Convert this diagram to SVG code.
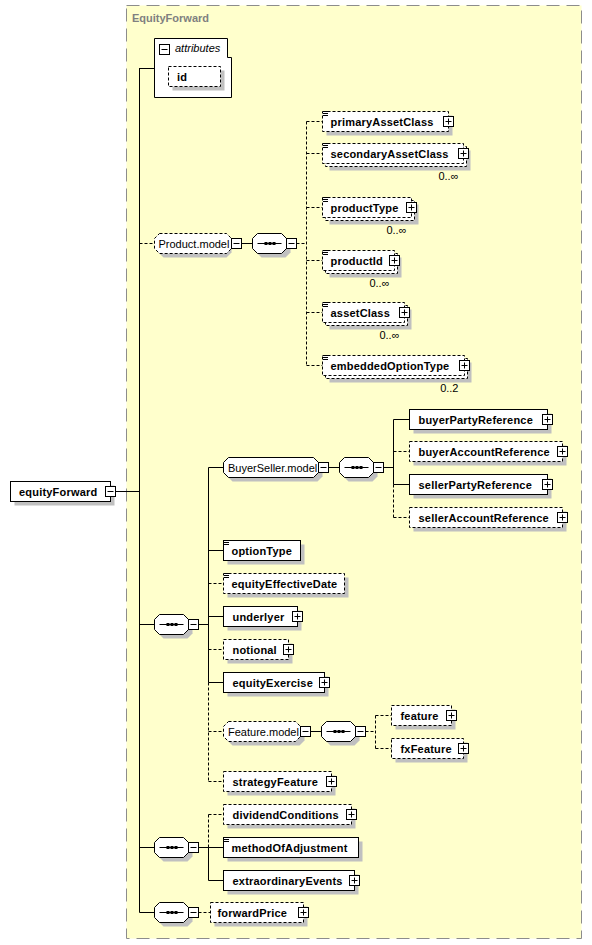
<svg xmlns="http://www.w3.org/2000/svg" xmlns:xlink="http://www.w3.org/1999/xlink" width="592" height="945" viewBox="0 0 592 945">
<style>
.bg{fill:#ffffcc;stroke:#8c8c8c;stroke-dasharray:13,7}
.title{font-family:"Liberation Sans",Arial,sans-serif;font-size:11px;font-weight:bold;fill:#808080}
.t{font-family:"Liberation Sans",Arial,sans-serif;font-size:11px;font-weight:bold;fill:#000;letter-spacing:0.2px}
.g{font-family:"Liberation Sans",Arial,sans-serif;font-size:11px;fill:#000}
.i{font-family:"Liberation Sans",Arial,sans-serif;font-size:11px;font-style:italic;fill:#000}
.o{font-family:"Liberation Sans",Arial,sans-serif;font-size:11px;fill:#000;text-anchor:end}
.box{fill:#fff;stroke:#000;stroke-width:1}
.opt{stroke-dasharray:3,2}
.sh{fill:#c0c0c0}
.eq{stroke:#000;stroke-width:1;fill:none}
.c{stroke:#000;stroke-width:1;fill:none}
.cd{stroke:#000;stroke-width:1;fill:none;stroke-dasharray:3,2}
</style>
<defs>
<g id="pl"><rect x="-5" y="-5" width="10" height="10" fill="#fff" stroke="#000"/><path d="M-3,0H3M0,-3V3" stroke="#000"/></g>
<g id="mi"><rect x="-5" y="-5" width="10" height="10" fill="#fff" stroke="#000"/><path d="M-3,0H3" stroke="#000"/></g>
<g id="seq">
<path d="M9,4H33L38,9V19L33,24H9L4,19V9Z" fill="#c0c0c0"/>
<path d="M5,0H29L34,5V15L29,20H5L0,15V5Z" fill="#fff" stroke="#000"/>
<path d="M5,10H29" stroke="#000"/>
<path d="M12,10H23" stroke="#000" stroke-width="3" stroke-dasharray="3,1"/>
</g>
</defs>

<rect class="bg" x="126.5" y="5.5" width="455" height="933"/>
<text class="title" x="132" y="22">EquityForward</text>

<g id="connectors">
<path class="c" d="M115,491.5H139.5M139.5,68V912.5M139.5,68.5H154.5M139.5,624.5H154.5M139.5,847.5H154.5M139.5,912.5H154.5"/>
<path class="cd" d="M139.5,243.5H154.5"/>
<path class="c" d="M241.5,243.5H252.5"/>
<path class="cd" d="M296.5,243.5H306.5M306.5,121.5V365.5M306.5,121.5H322.5M306.5,153.5H322.5M306.5,207.5H322.5M306.5,260.5H322.5M306.5,312.5H322.5M306.5,365.5H322.5"/>
<path class="c" d="M198.5,624.5H208.5M208.5,467.5V682.5M208.5,467.5H223.5M208.5,550.5H223.5M208.5,616.5H223.5M208.5,682.5H223.5"/>
<path class="cd" d="M208.5,682.5V781.5M208.5,583.5H223.5M208.5,649.5H223.5M208.5,731.5H223.5M208.5,781.5H223.5"/>
<path class="c" d="M328.5,467.5H339.5M383.5,467.5H393.5M393.5,419.5V484.5M393.5,419.5H409.5M393.5,484.5H409.5"/>
<path class="cd" d="M393.5,484.5V517.5M393.5,451.5H409.5M393.5,517.5H409.5"/>
<path class="c" d="M310.5,731.5H321.5"/>
<path class="cd" d="M365.5,731.5H375.5M375.5,715.5V748.5M375.5,715.5H391.5M375.5,748.5H391.5"/>
<path class="c" d="M198.5,847.5H208.5M208.5,847.5V880.5M208.5,847.5H223.5M208.5,880.5H223.5"/>
<path class="cd" d="M208.5,814.5V847.5M208.5,814.5H223.5"/>
<path class="cd" d="M198.5,912.5H210.5"/>
</g>

<g id="n-equityForward">
<rect class="sh" x="14.5" y="485.5" width="100" height="20"/>
<rect class="box" x="10.5" y="481.5" width="100" height="20"/>
<text class="t" x="19" y="495.5">equityForward</text>
<use xlink:href="#mi" x="110.5" y="491.5"/>
</g>

<g id="n-attributes">
<path class="box" d="M154.5,38.5H227.5V57.5H231.5V97.5H154.5Z"/>
<use xlink:href="#mi" x="164.5" y="49.5"/>
<text class="i" x="175" y="52">attributes</text>
<rect class="sh" x="172.5" y="70.5" width="52" height="20"/>
<rect class="box opt" x="168.5" y="66.5" width="52" height="20"/>
<text class="t" x="177" y="80.5">id</text>
</g>

<g id="n-Product.model">
<path d="M163.5,237.5H226.5L231.5,242.5V252.5L226.5,257.5H163.5L158.5,252.5V242.5Z" class="sh"/>
<path class="box opt" d="M159.5,233.5H226.5L231.5,238.5V248.5L226.5,253.5H159.5L154.5,248.5V238.5Z"/>
<text class="g" x="158.5" y="247.5">Product.model</text>
<use xlink:href="#mi" x="236.5" y="243.5"/>
</g>
<g id="n-seq-product">
<use xlink:href="#seq" x="252.5" y="233.5"/>
<use xlink:href="#mi" x="291.5" y="243.5"/>
</g>

<g id="n-primaryAssetClass">
<rect class="sh" x="326.5" y="115.5" width="126" height="20"/>
<rect class="box opt" x="322.5" y="111.5" width="126" height="20"/>
<path class="eq" d="M323,111.5h5M323,113.5h5M323,115.5h5"/>
<text class="t" x="330.5" y="125.5">primaryAssetClass</text>
<use xlink:href="#pl" x="448.5" y="121.5"/>
</g>

<g id="n-secondaryAssetClass">
<rect class="sh" x="329.5" y="150.5" width="141" height="20"/>
<rect class="box opt" x="325.5" y="146.5" width="141" height="20"/>
<rect class="box opt" x="322.5" y="143.5" width="141" height="20"/>
<path class="eq" d="M323,143.5h5M323,145.5h5M323,147.5h5"/>
<text class="t" x="330.5" y="157.5">secondaryAssetClass</text>
<use xlink:href="#pl" x="463.5" y="153.5"/>
<text class="o" x="458.5" y="179.5">0..∞</text>
</g>

<g id="n-productType">
<rect class="sh" x="329.5" y="204.5" width="89" height="20"/>
<rect class="box opt" x="325.5" y="200.5" width="89" height="20"/>
<rect class="box opt" x="322.5" y="197.5" width="89" height="20"/>
<path class="eq" d="M323,197.5h5M323,199.5h5M323,201.5h5"/>
<text class="t" x="330.5" y="211.5">productType</text>
<use xlink:href="#pl" x="411.5" y="207.5"/>
<text class="o" x="406.5" y="233.5">0..∞</text>
</g>

<g id="n-productId">
<rect class="sh" x="329.5" y="257.5" width="72" height="20"/>
<rect class="box opt" x="325.5" y="253.5" width="72" height="20"/>
<rect class="box opt" x="322.5" y="250.5" width="72" height="20"/>
<path class="eq" d="M323,250.5h5M323,252.5h5M323,254.5h5"/>
<text class="t" x="330.5" y="264.5">productId</text>
<use xlink:href="#pl" x="394.5" y="260.5"/>
<text class="o" x="389.5" y="286.5">0..∞</text>
</g>

<g id="n-assetClass">
<rect class="sh" x="329.5" y="309.5" width="82" height="20"/>
<rect class="box opt" x="325.5" y="305.5" width="82" height="20"/>
<rect class="box opt" x="322.5" y="302.5" width="82" height="20"/>
<path class="eq" d="M323,302.5h5M323,304.5h5M323,306.5h5"/>
<text class="t" x="330.5" y="316.5">assetClass</text>
<use xlink:href="#pl" x="404.5" y="312.5"/>
<text class="o" x="399.5" y="338.5">0..∞</text>
</g>

<g id="n-embeddedOptionType">
<rect class="sh" x="329.5" y="362.5" width="142" height="20"/>
<rect class="box opt" x="325.5" y="358.5" width="142" height="20"/>
<rect class="box opt" x="322.5" y="355.5" width="142" height="20"/>
<path class="eq" d="M323,355.5h5M323,357.5h5M323,359.5h5"/>
<text class="t" x="330.5" y="369.5">embeddedOptionType</text>
<use xlink:href="#pl" x="464.5" y="365.5"/>
<text class="o" x="458.5" y="391.5">0..2</text>
</g>

<g id="n-seq-main">
<use xlink:href="#seq" x="154.5" y="614.5"/>
<use xlink:href="#mi" x="193.5" y="624.5"/>
</g>

<g id="n-BuyerSeller.model">
<path class="sh" d="M232.5,461.5H317.5L322.5,466.5V476.5L317.5,481.5H232.5L227.5,476.5V466.5Z"/>
<path class="box" d="M228.5,457.5H313.5L318.5,462.5V472.5L313.5,477.5H228.5L223.5,472.5V462.5Z"/>
<text class="g" x="228" y="471.5">BuyerSeller.model</text>
<use xlink:href="#mi" x="323.5" y="467.5"/>
</g>
<g id="n-seq-buyerseller">
<use xlink:href="#seq" x="339.5" y="457.5"/>
<use xlink:href="#mi" x="378.5" y="467.5"/>
</g>

<g id="n-buyerPartyReference">
<rect class="sh" x="413.5" y="413.5" width="138" height="20"/>
<rect class="box" x="409.5" y="409.5" width="138" height="20"/>
<text class="t" x="418.5" y="423.5">buyerPartyReference</text>
<use xlink:href="#pl" x="547.5" y="419.5"/>
</g>
<g id="n-buyerAccountReference">
<rect class="sh" x="413.5" y="445.5" width="153" height="20"/>
<rect class="box opt" x="409.5" y="441.5" width="153" height="20"/>
<text class="t" x="418.5" y="455.5">buyerAccountReference</text>
<use xlink:href="#pl" x="562.5" y="451.5"/>
</g>
<g id="n-sellerPartyReference">
<rect class="sh" x="413.5" y="478.5" width="138" height="20"/>
<rect class="box" x="409.5" y="474.5" width="138" height="20"/>
<text class="t" x="418.5" y="488.5">sellerPartyReference</text>
<use xlink:href="#pl" x="547.5" y="484.5"/>
</g>
<g id="n-sellerAccountReference">
<rect class="sh" x="413.5" y="511.5" width="153" height="20"/>
<rect class="box opt" x="409.5" y="507.5" width="153" height="20"/>
<text class="t" x="418.5" y="521.5">sellerAccountReference</text>
<use xlink:href="#pl" x="562.5" y="517.5"/>
</g>

<g id="n-optionType">
<rect class="sh" x="227.5" y="544.5" width="77" height="20"/>
<rect class="box" x="223.5" y="540.5" width="77" height="20"/>
<path class="eq" d="M224,540.5h5M224,542.5h5M224,544.5h5"/>
<text class="t" x="231.5" y="554.5">optionType</text>
</g>
<g id="n-equityEffectiveDate">
<rect class="sh" x="227.5" y="577.5" width="121" height="20"/>
<rect class="box opt" x="223.5" y="573.5" width="121" height="20"/>
<path class="eq" d="M224,573.5h5M224,575.5h5M224,577.5h5"/>
<text class="t" x="231.5" y="587.5">equityEffectiveDate</text>
</g>
<g id="n-underlyer">
<rect class="sh" x="227.5" y="610.5" width="74" height="20"/>
<rect class="box" x="223.5" y="606.5" width="74" height="20"/>
<text class="t" x="232.5" y="620.5">underlyer</text>
<use xlink:href="#pl" x="297.5" y="616.5"/>
</g>
<g id="n-notional">
<rect class="sh" x="227.5" y="643.5" width="65" height="20"/>
<rect class="box opt" x="223.5" y="639.5" width="65" height="20"/>
<text class="t" x="232.5" y="653.5">notional</text>
<use xlink:href="#pl" x="288.5" y="649.5"/>
</g>
<g id="n-equityExercise">
<rect class="sh" x="227.5" y="676.5" width="101" height="20"/>
<rect class="box" x="223.5" y="672.5" width="101" height="20"/>
<text class="t" x="232.5" y="686.5">equityExercise</text>
<use xlink:href="#pl" x="324.5" y="682.5"/>
</g>

<g id="n-Feature.model">
<path class="sh" d="M232.5,725.5H299.5L304.5,730.5V740.5L299.5,745.5H232.5L227.5,740.5V730.5Z"/>
<path class="box opt" d="M228.5,721.5H295.5L300.5,726.5V736.5L295.5,741.5H228.5L223.5,736.5V726.5Z"/>
<text class="g" x="228" y="735.5">Feature.model</text>
<use xlink:href="#mi" x="305.5" y="731.5"/>
</g>
<g id="n-seq-feature">
<use xlink:href="#seq" x="321.5" y="721.5"/>
<use xlink:href="#mi" x="360.5" y="731.5"/>
</g>
<g id="n-feature">
<rect class="sh" x="395.5" y="709.5" width="60" height="20"/>
<rect class="box opt" x="391.5" y="705.5" width="60" height="20"/>
<text class="t" x="400.5" y="719.5">feature</text>
<use xlink:href="#pl" x="451.5" y="715.5"/>
</g>
<g id="n-fxFeature">
<rect class="sh" x="395.5" y="742.5" width="72" height="20"/>
<rect class="box opt" x="391.5" y="738.5" width="72" height="20"/>
<text class="t" x="400.5" y="752.5">fxFeature</text>
<use xlink:href="#pl" x="463.5" y="748.5"/>
</g>
<g id="n-strategyFeature">
<rect class="sh" x="227.5" y="775.5" width="108" height="20"/>
<rect class="box opt" x="223.5" y="771.5" width="108" height="20"/>
<text class="t" x="232.5" y="785.5">strategyFeature</text>
<use xlink:href="#pl" x="331.5" y="781.5"/>
</g>

<g id="n-seq-2">
<use xlink:href="#seq" x="154.5" y="837.5"/>
<use xlink:href="#mi" x="193.5" y="847.5"/>
</g>
<g id="n-dividendConditions">
<rect class="sh" x="227.5" y="808.5" width="128" height="20"/>
<rect class="box opt" x="223.5" y="804.5" width="128" height="20"/>
<text class="t" x="232.5" y="818.5">dividendConditions</text>
<use xlink:href="#pl" x="351.5" y="814.5"/>
</g>
<g id="n-methodOfAdjustment">
<rect class="sh" x="227.5" y="841.5" width="135" height="20"/>
<rect class="box" x="223.5" y="837.5" width="135" height="20"/>
<path class="eq" d="M224,837.5h5M224,839.5h5M224,841.5h5"/>
<text class="t" x="231.5" y="851.5">methodOfAdjustment</text>
</g>
<g id="n-extraordinaryEvents">
<rect class="sh" x="227.5" y="874.5" width="131" height="20"/>
<rect class="box" x="223.5" y="870.5" width="131" height="20"/>
<text class="t" x="232.5" y="884.5">extraordinaryEvents</text>
<use xlink:href="#pl" x="354.5" y="880.5"/>
</g>

<g id="n-seq-3">
<use xlink:href="#seq" x="154.5" y="902.5"/>
<use xlink:href="#mi" x="193.5" y="912.5"/>
</g>
<g id="n-forwardPrice">
<rect class="sh" x="214.5" y="906.5" width="93" height="20"/>
<rect class="box opt" x="210.5" y="902.5" width="93" height="20"/>
<text class="t" x="217.5" y="916.5">forwardPrice</text>
<use xlink:href="#pl" x="303.5" y="912.5"/>
</g>
</svg>
